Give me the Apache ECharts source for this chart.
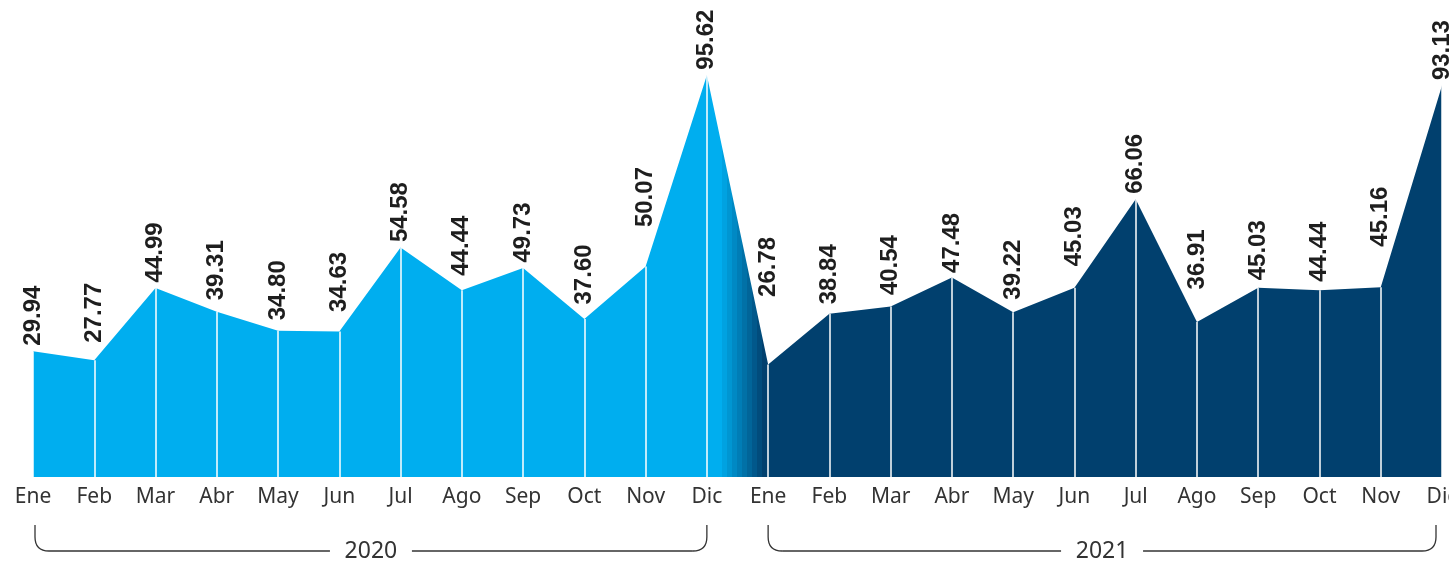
<!DOCTYPE html>
<html>
<head>
<meta charset="utf-8">
<script src="https://cdn.jsdelivr.net/npm/echarts@6/dist/echarts.min.js"></script>
<style>
html,body{margin:0;padding:0;background:#fff;overflow:hidden;}
#chart{width:1449px;height:562px;}
</style>
</head>
<body>
<div id="chart"></div>
<script>
const months = ['Ene','Feb','Mar','Abr','May','Jun','Jul','Ago','Sep','Oct','Nov','Dic','Ene','Feb','Mar','Abr','May','Jun','Jul','Ago','Sep','Oct','Nov','Dic'];
const values2020 = [29.94,27.77,44.99,39.31,34.80,34.63,54.58,44.44,49.73,37.60,50.07,95.62];
const values2021 = [26.78,38.84,40.54,47.48,39.22,45.03,66.06,36.91,45.03,44.44,45.16,93.13];
const years = ['2020','2021'];
// label lift above each point (style only, px)
const labelGap = [5,17,5,11,10,19,5,14,5,14,39,5, 67,9,11,4,12,21,5,32,7,8,40,5];

const values = values2020.concat(values2021);
const chart = echarts.init(document.getElementById('chart'));
const LIGHT = [0,174,239], DARK = [1,64,110];

// stepped gradient between the two years
const W = 1449, gx0 = 722, gx1 = 767, steps = 9;
const stops = [{offset:0,color:'rgb('+LIGHT+')'}];
for(let s=0;s<steps;s++){
  const t = (s+1)/steps;
  const c = LIGHT.map((v,i)=>Math.round(v+(DARK[i]-v)*t));
  const a = (gx0+(gx1-gx0)*s/steps)/W, b=(gx0+(gx1-gx0)*(s+1)/steps)/W;
  stops.push({offset:a,color:'rgb('+c+')'},{offset:b,color:'rgb('+c+')'});
}
stops.splice(1,0,{offset:gx0/W,color:'rgb('+LIGHT+')'});
stops.push({offset:1,color:'rgb('+DARK+')'});
stops.sort((p,q)=>p.offset-q.offset);

const seriesData = values.map((v,i)=>({value:v,label:{distance:labelGap[i]}}));
const dividers = values.map((v,i)=>[{coord:[i,0]},{coord:[i,v]}]);

chart.setOption({
  animation:false,
  grid:{left:33,width:1409,top:0,bottom:85,outerBoundsMode:'none',containLabel:false},
  xAxis:{
    type:'category', data:months, boundaryGap:false,
    axisLine:{show:false}, axisTick:{show:false}, splitLine:{show:false},
    axisLabel:{color:'#333',fontSize:21,fontFamily:'Noto Sans',margin:10,interval:0}
  },
  yAxis:{type:'value',min:0,max:113.5,show:false,splitLine:{show:false}},
  series:[{
    type:'line', data:seriesData, symbol:'circle', symbolSize:1, showSymbol:true,
    itemStyle:{color:'rgba(0,0,0,0)'},
    lineStyle:{width:0},
    areaStyle:{opacity:1,color:new echarts.graphic.LinearGradient(0,0,W,0,stops,true)},
    label:{show:true,position:'top',rotate:90,align:'left',verticalAlign:'middle',distance:5,offset:[-3,0],
      formatter:p=>p.value.toFixed(2),color:'#1e1e1e',fontSize:24,fontWeight:'bold',fontFamily:'Liberation Sans'},
    labelLayout:{hideOverlap:false},
    markLine:{silent:true,symbol:'none',label:{show:false},
      lineStyle:{color:'#fff',width:1.5,type:'solid'},data:dividers}
  }]
});

function drawBrackets(){
  const els=[];
  const yTop=525, yLine=551, r=14;
  const st={stroke:'#333',lineWidth:1.3,fill:null};
  [[0,11,2,0],[12,23,0,-6]].forEach((g,k)=>{
    const x1=chart.convertToPixel({xAxisIndex:0},g[0])+g[2];
    const x2=chart.convertToPixel({xAxisIndex:0},g[1])+g[3];
    const cx=(x1+x2)/2, gap=41;
    els.push({type:'polyline',shape:{points:[[x1,yTop],[x1,yLine-r]]},style:st});
    els.push({type:'bezierCurve',shape:{x1:x1,y1:yLine-r,cpx1:x1,cpy1:yLine,x2:x1+r,y2:yLine},style:st});
    els.push({type:'polyline',shape:{points:[[x1+r,yLine],[cx-gap,yLine]]},style:st});
    els.push({type:'polyline',shape:{points:[[cx+gap,yLine],[x2-r,yLine]]},style:st});
    els.push({type:'bezierCurve',shape:{x1:x2-r,y1:yLine,cpx1:x2,cpy1:yLine,x2:x2,y2:yLine-r},style:st});
    els.push({type:'polyline',shape:{points:[[x2,yLine-r],[x2,yTop]]},style:st});
    els.push({type:'text',x:cx,y:yLine,style:{text:years[k],fill:'#333',fontSize:23,fontFamily:'Noto Sans',align:'center',verticalAlign:'middle'}});
  });
  chart.setOption({graphic:{elements:els}});
}
drawBrackets();
</script>
</body>
</html>
